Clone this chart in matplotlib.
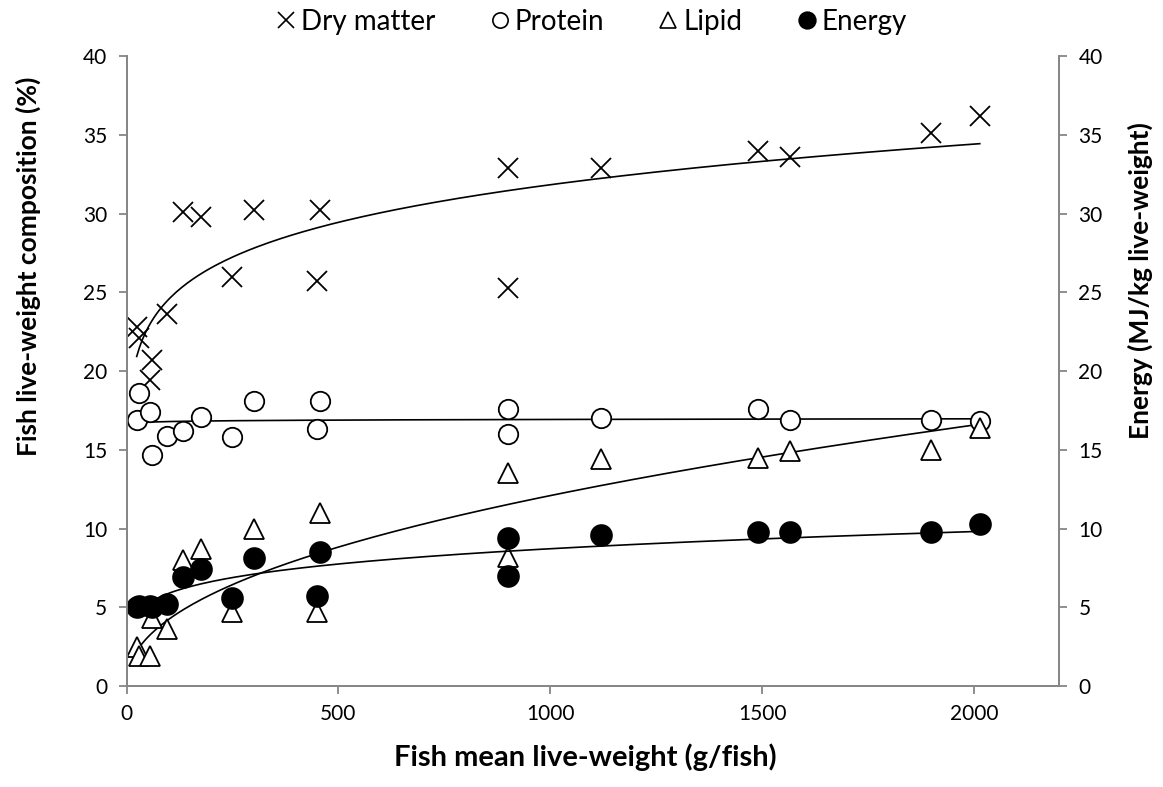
import numpy as np
import matplotlib
matplotlib.use("Agg")
import matplotlib.pyplot as plt
from matplotlib.lines import Line2D

plt.rcParams['font.family'] = ['Lato', 'DejaVu Sans']

# Fish mean live-weight (g/fish) for each sample
weight = [24, 29, 55, 59, 95, 134, 175, 250, 301, 450, 456,
          899, 899, 1120, 1489, 1566, 1899, 2013]

# Composition (% of live-weight)
dry_matter = [22.8, 22.1, 19.4, 20.7, 23.6, 30.1, 29.8, 26.0, 30.2, 25.7, 30.2,
              32.9, 25.3, 32.9, 34.0, 33.6, 35.1, 36.2]
protein = [16.9, 18.6, 17.4, 14.7, 15.9, 16.2, 17.1, 15.8, 18.1, 16.3, 18.1,
           17.6, 16.0, 17.0, 17.6, 16.9, 16.9, 16.8]
lipid = [2.5, 1.9, 1.9, 4.3, 3.6, 8.0, 8.7, 4.7, 10.0, 4.7, 11.0,
         13.5, 8.2, 14.4, 14.5, 14.9, 15.0, 16.4]
# Energy (MJ/kg live-weight)
energy = [5.0, 5.1, 5.1, 5.0, 5.2, 6.9, 7.4, 5.6, 8.1, 5.7, 8.5,
          9.4, 7.0, 9.6, 9.75, 9.75, 9.8, 10.3]

x_ticks = [0, 500, 1000, 1500, 2000]
y_ticks = [0, 5, 10, 15, 20, 25, 30, 35, 40]

GREY = '#868686'


def power_fit(x, y):
    """Least-squares power trend y = a * x**b fitted in log-log space."""
    b, ln_a = np.polyfit(np.log(x), np.log(y), 1)
    xs = np.linspace(min(x), max(x), 300)
    return xs, np.exp(ln_a) * xs ** b


fig = plt.figure(figsize=(11.63, 7.87), dpi=100)
ax = fig.add_axes([0.1088, 0.1283, 0.8018, 0.8005])
ax2 = ax.twinx()

w = np.array(weight, dtype=float)

ms = 14
mew = 1.3
ax.plot(w, dry_matter, linestyle='none', marker='x', ms=ms, mew=mew, color='black')
ax.plot(w, protein, linestyle='none', marker='o', ms=ms, mew=mew,
        mfc='white', mec='black')
ax.plot(w, lipid, linestyle='none', marker='^', ms=ms, mew=mew,
        mfc='white', mec='black')
ax2.plot(w, energy, linestyle='none', marker='o', ms=ms + 1, mew=mew,
         mfc='black', mec='black')

for series, axis in ((dry_matter, ax), (protein, ax), (lipid, ax), (energy, ax2)):
    xs, ys = power_fit(w, np.array(series, dtype=float))
    axis.plot(xs, ys, color='black', lw=1.2, zorder=1)

for a in (ax, ax2):
    a.set_xlim(0, 2200)
    a.set_ylim(0, 40)
    a.set_yticks(y_ticks)
    for s in a.spines.values():
        s.set_color(GREY)
        s.set_linewidth(1.3)
    a.spines['top'].set_visible(False)
    a.tick_params(colors=GREY, labelcolor='black', labelsize=15,
                  length=6, width=1.3, direction='out', pad=8)

ax.set_xticks(x_ticks)
ax.tick_params(axis='x', pad=7)

fig.text(0.503, 0.0381, 'Fish mean live-weight (g/fish)', ha='center', va='center',
         fontsize=21, fontweight='bold')
fig.text(0.0245, 0.662, 'Fish live-weight composition (%)', ha='center', va='center',
         rotation=90, fontsize=19, fontweight='bold')
fig.text(0.9802, 0.644, 'Energy (MJ/kg live-weight)', ha='center', va='center',
         rotation=90, fontsize=19, fontweight='bold')

handles = [
    Line2D([], [], linestyle='none', marker='x', ms=12, mew=1.2, color='black'),
    Line2D([], [], linestyle='none', marker='o', ms=11, mew=1.2, mfc='white', mec='black'),
    Line2D([], [], linestyle='none', marker='^', ms=11, mew=1.2, mfc='white', mec='black'),
    Line2D([], [], linestyle='none', marker='o', ms=12, mew=1.2, mfc='black', mec='black'),
]
labels = ['Dry matter', 'Protein', 'Lipid', 'Energy']
fig.legend(handles, labels, loc='center', bbox_to_anchor=(0.507, 0.972), ncol=4,
           frameon=False, fontsize=20, handletextpad=0.05, columnspacing=1.8,
           handlelength=1.0)

fig.savefig('out.png', dpi=100)
